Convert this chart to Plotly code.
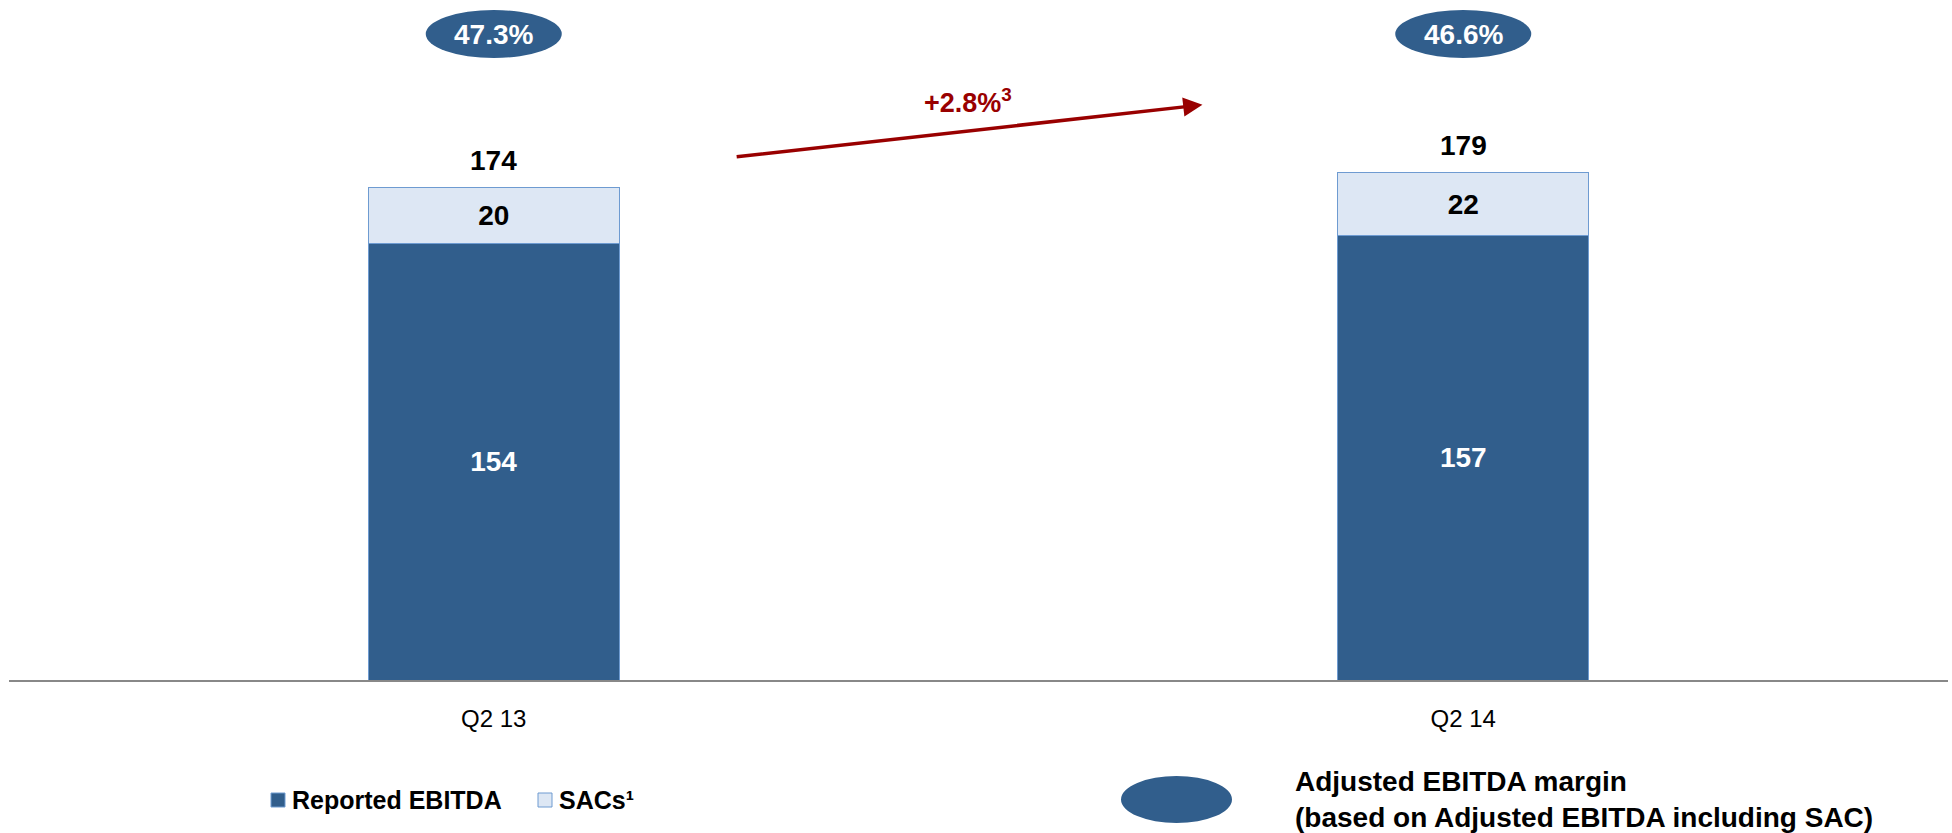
import plotly.graph_objects as go

# Quarterly EBITDA bridge: reported EBITDA plus subscriber acquisition costs
quarters = ["Q2 13", "Q2 14"]
reported_ebitda = [154, 157]
sacs = [20, 22]
adjusted_total = [174, 179]
adjusted_margin = ["47.3%", "46.6%"]
growth_label = "+2.8%<sup>3</sup>"

DARK = "#315E8C"
LIGHT = "#DDE7F4"
EDGE = "#6E9BD1"
RED = "#990000"
FONT = "Liberation Sans, Arial, sans-serif"

W, H = 1952, 833
M_L, M_R, M_T, M_B = 9, 4, 0, 153
PLOT_W = W - M_L - M_R
PLOT_H = H - M_T - M_B
Y_MAX = 240


def paper_x(px):
    return (px - M_L) / PLOT_W


def paper_y(py):
    return (M_T + PLOT_H - py) / PLOT_H


fig = go.Figure()

fig.add_trace(go.Bar(
    x=quarters, y=reported_ebitda, name="Reported EBITDA",
    marker=dict(color=DARK, line=dict(color=EDGE, width=1)),
    text=[str(v) for v in reported_ebitda], textposition="inside",
    insidetextanchor="middle", textangle=0,
    textfont=dict(family=FONT, size=28, color="white", weight="bold"),
    width=0.259, showlegend=False, hoverinfo="skip",
))
fig.add_trace(go.Bar(
    x=quarters, y=sacs, name="SACs¹",
    marker=dict(color=LIGHT, line=dict(color=EDGE, width=1)),
    text=[str(v) for v in sacs], textposition="inside",
    insidetextanchor="middle", textangle=0,
    textfont=dict(family=FONT, size=28, color="black", weight="bold"),
    width=0.259, showlegend=False, hoverinfo="skip",
))

shapes = []
annotations = []

# totals above each stack
for q, tot in zip(quarters, adjusted_total):
    annotations.append(dict(
        x=q, y=tot, xref="x", yref="y", text=str(tot), showarrow=False,
        yanchor="middle", yshift=27,
        font=dict(family=FONT, size=28, color="black", weight="bold"),
    ))

# adjusted margin badges
MARGIN_Y = 228
for i, m in enumerate(adjusted_margin):
    shapes.append(dict(
        type="circle", xref="x", yref="y",
        xsizemode="pixel", ysizemode="pixel", xanchor=i, yanchor=MARGIN_Y,
        x0=-68, x1=68, y0=-24, y1=24,
        fillcolor=DARK, line=dict(width=0), layer="above",
    ))
    annotations.append(dict(
        x=i, y=MARGIN_Y, xref="x", yref="y", text=m, showarrow=False,
        font=dict(family=FONT, size=28, color="white", weight="bold"),
    ))

# growth arrow between the two quarters
annotations.append(dict(
    x=0.731, y=203, xref="x", yref="y",
    ax=0.249, ay=184.6, axref="x", ayref="y",
    text="", showarrow=True, arrowhead=2, arrowsize=1.1, arrowwidth=3.5,
    arrowcolor=RED,
))
annotations.append(dict(
    x=0.489, y=204.5, xref="x", yref="y", text=growth_label, showarrow=False,
    font=dict(family=FONT, size=27, color=RED, weight="bold"),
))

# legend for the stacked series
legend_items = [
    (271, DARK, "Reported EBITDA"),
    (538, LIGHT, "SACs¹"),
]
for x_left, color, label in legend_items:
    shapes.append(dict(
        type="rect", xref="paper", yref="paper",
        x0=paper_x(x_left), x1=paper_x(x_left + 14),
        y0=paper_y(807), y1=paper_y(793),
        fillcolor=color, line=dict(color=EDGE, width=1),
    ))
    annotations.append(dict(
        x=paper_x(x_left + 19), y=paper_y(800), xref="paper", yref="paper",
        text=label, showarrow=False, xanchor="left", yanchor="middle",
        font=dict(family=FONT, size=25, color="black", weight="bold"),
    ))

# legend for the margin badge
shapes.append(dict(
    type="circle", xref="paper", yref="paper",
    x0=paper_x(1121), x1=paper_x(1232), y0=paper_y(823), y1=paper_y(776),
    fillcolor=DARK, line=dict(width=0),
))
annotations.append(dict(
    x=paper_x(1293), y=paper_y(799), xref="paper", yref="paper",
    text="Adjusted EBITDA margin<br>(based on Adjusted EBITDA including SAC)",
    showarrow=False, xanchor="left", yanchor="middle", align="left",
    font=dict(family=FONT, size=28, color="black", weight="bold"),
))

fig.update_layout(
    barmode="stack",
    width=W, height=H,
    margin=dict(l=M_L, r=M_R, t=M_T, b=M_B, pad=0),
    paper_bgcolor="white", plot_bgcolor="white",
    shapes=shapes, annotations=annotations,
    showlegend=False,
    uniformtext=dict(mode=False),
)
fig.update_xaxes(
    type="category", showline=True, linecolor="#888888", linewidth=2,
    ticks="", showgrid=False, zeroline=False,
    tickfont=dict(family=FONT, size=24, color="black"),
    ticklabelstandoff=16,
)
fig.update_yaxes(
    range=[0, Y_MAX], visible=False, showgrid=False, zeroline=False,
)

fig.write_html("out.html")
